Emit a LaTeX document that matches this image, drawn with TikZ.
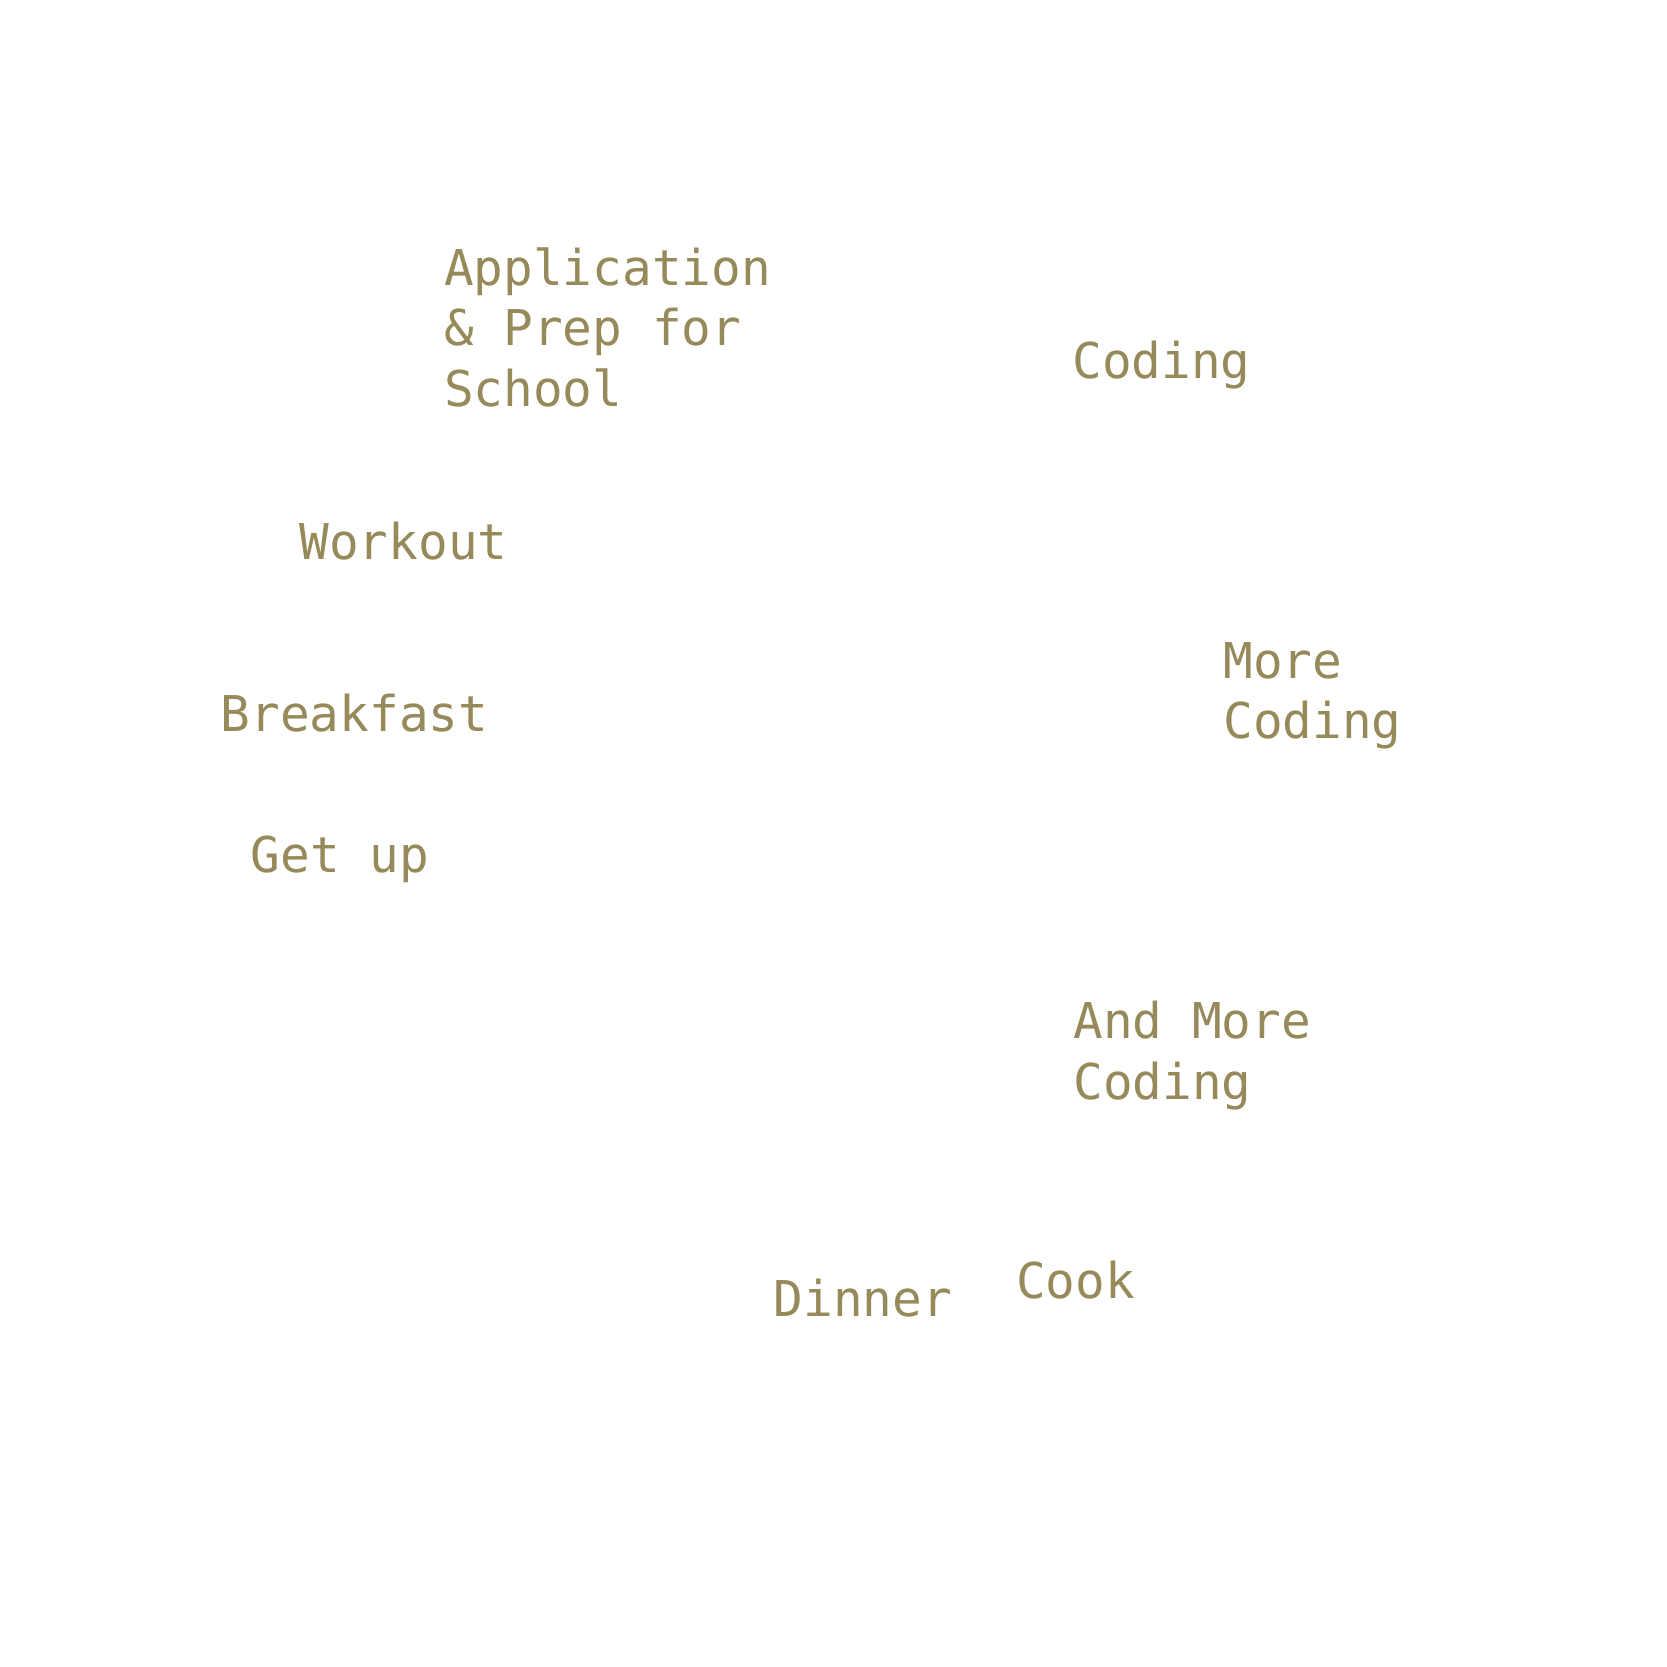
\documentclass[tikz,border=0pt]{standalone}
\usepackage{fontspec}
\usepackage{xcolor}
\usepackage{tikz}
\setmonofont{DejaVu Sans Mono}
\definecolor{labelolive}{RGB}{150,137,90}

\begin{document}
\begin{tikzpicture}[
    slotlabel/.style={anchor=base west, inner sep=0pt, align=left, text=labelolive, font=\ttfamily\fontsize{13.2}{16.2}\selectfont},
    x=0.01cm, y=-0.01cm
]
\useasboundingbox (0, 0) rectangle (1568, 1568);

% multi-line labels sit on the baseline of their last line
\node[slotlabel] (app) at (417, 382) {Application\\\& Prep for\\School};
\node[slotlabel] (coding) at (1008, 356) {Coding};
\node[slotlabel] (workout) at (281, 526) {Workout};
\node[slotlabel] (morecoding) at (1150, 695) {More\\Coding};
\node[slotlabel] (breakfast) at (207, 688) {Breakfast};
\node[slotlabel] (getup) at (235, 821) {Get up};
\node[slotlabel] (andmore) at (1009, 1034) {And More\\Coding};
\node[slotlabel] (cook) at (955, 1221) {Cook};
\node[slotlabel] (dinner) at (727, 1238) {Dinner};

\end{tikzpicture}
\end{document}
